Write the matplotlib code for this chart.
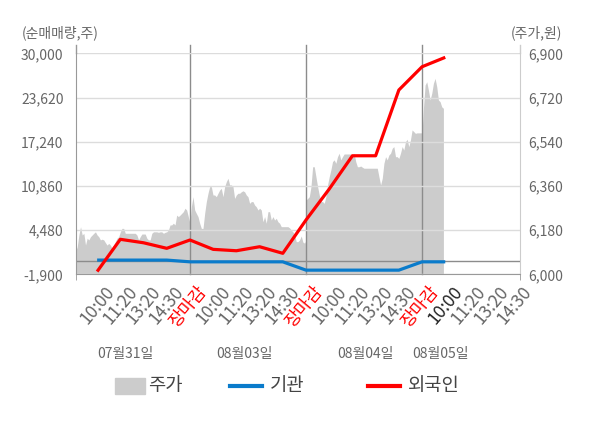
import matplotlib
matplotlib.use('Agg')
import matplotlib.pyplot as plt
import numpy as np
from matplotlib.patches import Rectangle
from matplotlib.lines import Line2D
import matplotlib.transforms as mtransforms

plt.rcParams['font.family'] = ['Noto Sans CJK KR', 'DejaVu Sans']

# ---------------- data ----------------
tick_labels = ['10:00', '11:20', '13:20', '14:30', '장마감',
               '10:00', '11:20', '13:20', '14:30', '장마감',
               '10:00', '11:20', '13:20', '14:30', '장마감',
               '10:00', '11:20', '13:20', '14:30']
date_labels = ['07월31일', '08월03일', '08월04일', '08월05일']
left_ticks = [-1900, 4480, 10860, 17240, 23620, 30000]
right_ticks = [6000, 6180, 6360, 6540, 6720, 6900]

slots = list(range(16))
foreign = [-1500, 3150, 2650, 1850, 3050, 1700, 1500, 2080, 1130,
           5940, 10410, 15210, 15210, 24700, 28060, 29420]
institution = [150, 150, 150, 150, -100, -100, -100, -100, -100,
               -1300, -1300, -1300, -1300, -1300, -100, -100]

price_day1 = [6092, 6092, 6112, 6160, 6194, 6160, 6167, 6119, 6147, 6140,
              6153, 6160, 6167, 6173, 6160, 6153, 6140, 6143, 6140, 6129,
              6119, 6126, 6119, 6106, 6119, 6133, 6147, 6153, 6173, 6187,
              6187, 6167, 6167, 6167, 6167, 6167, 6167, 6167, 6160, 6140,
              6153, 6164, 6164, 6164, 6147, 6140, 6140, 6167, 6173, 6173,
              6173, 6171, 6173, 6173, 6167, 6171, 6173, 6180, 6201, 6201,
              6208, 6201, 6241, 6235, 6241, 6248, 6255, 6269, 6262, 6235,
              6208]
price_day2 = [6275, 6316, 6262, 6248, 6235, 6208, 6187, 6187, 6248, 6296,
              6330, 6357, 6357, 6323, 6323, 6316, 6330, 6343, 6350, 6316,
              6357, 6377, 6391, 6364, 6364, 6357, 6309, 6323, 6330, 6330,
              6336, 6340, 6336, 6323, 6316, 6289, 6296, 6296, 6282, 6275,
              6262, 6269, 6262, 6214, 6235, 6208, 6255, 6255, 6221, 6235,
              6221, 6228, 6214, 6208, 6194, 6194, 6194, 6194, 6194, 6189,
              6180, 6173, 6160, 6133, 6133, 6140, 6156, 6131, 6127, 6140]
price_day3 = [6302, 6309, 6316, 6357, 6438, 6438, 6397, 6357, 6323, 6296,
              6296, 6289, 6316, 6364, 6397, 6425, 6459, 6466, 6452, 6479,
              6493, 6466, 6479, 6490, 6490, 6490, 6490, 6490, 6479, 6493,
              6459, 6438, 6438, 6441, 6436, 6432, 6432, 6432, 6432, 6432,
              6432, 6432, 6432, 6432, 6397, 6364, 6391, 6452, 6479, 6466,
              6486, 6493, 6513, 6520, 6479, 6479, 6472, 6493, 6520, 6506,
              6540, 6550, 6520, 6547, 6588, 6581, 6574, 6576, 6576, 6576,
              6576]
price_day4 = [6676, 6771, 6784, 6750, 6710, 6737, 6778, 6798, 6764, 6710,
              6703, 6682, 6676]
day_spans = [(-1.0, 4.0), (4.06, 9.01), (9.0, 14.0), (14.06, 14.92)]

# ---------------- figure ----------------
W, H = 600, 428
fig = plt.figure(figsize=(W / 100, H / 100), dpi=100)
L, R, T, B = 76, 520, 53.3, 274.3
ax = fig.add_axes([L / W, 1 - B / H, (R - L) / W, (B - T) / H])
ax2 = ax.twinx()
ax.set_zorder(ax2.get_zorder() + 1)
ax.patch.set_visible(False)
ax2.patch.set_facecolor('#f4f4f4')

XL, XR = -0.91, 18.22
ax.set_xlim(XL, XR)
ax.set_ylim(-1900, 30000)
ax2.set_ylim(6000, 6900)

# price area
px, pv = [], []
for vals, (a, b) in zip([price_day1, price_day2, price_day3, price_day4], day_spans):
    px.extend(np.linspace(a, b, len(vals)))
    pv.extend(vals)
ax2.fill_between(px, 6000, pv, color='#cccccc', lw=0)

# grid and reference lines
ax.set_yticks(left_ticks)
ax.set_yticklabels([f'{v:,}' for v in left_ticks])
ax2.set_yticks(right_ticks)
ax2.set_yticklabels([f'{v:,}' for v in right_ticks])
ax.grid(axis='y', color='#dcdcdc', lw=1)
ax.grid(axis='x', visible=False)
ax.axhline(0, color='#8c8c8c', lw=1, zorder=1.5)

blend = mtransforms.blended_transform_factory(ax.transData, ax.transAxes)
ext = 1 + 8.3 / (B - T)
for xv in [4, 9, 14]:
    ax.plot([xv, xv], [0, ext], color='#8c8c8c', lw=1, transform=blend,
            clip_on=False, zorder=1.5)
ax.plot([0, 0], [1, ext], color='#999999', lw=1, transform=ax.transAxes, clip_on=False)
ax.plot([1, 1], [1, ext], color='#cccccc', lw=1, transform=ax.transAxes, clip_on=False)

# series
ax.plot(slots, institution, color='#0a7bcb', lw=2.3, zorder=3, solid_capstyle='butt')
ax.plot(slots, foreign, color='#ff0000', lw=2.3, zorder=4, solid_capstyle='butt')

# spines
for s in ['top']:
    ax.spines[s].set_visible(False)
    ax2.spines[s].set_visible(False)
ax.spines['right'].set_visible(False)
ax2.spines['left'].set_visible(False)
ax2.spines['bottom'].set_visible(False)
ax.spines['left'].set_color('#999999')
ax.spines['bottom'].set_color('#999999')
ax2.spines['right'].set_color('#cccccc')

# ticks
ax.tick_params(axis='y', length=0, pad=9, labelsize=10, labelcolor='#666666')
ax2.tick_params(axis='y', length=0, pad=6, labelsize=10, labelcolor='#666666')
ax.set_xticks(range(len(tick_labels)))
ax.set_xticklabels(tick_labels, rotation=50, ha='right', va='top',
                   rotation_mode='anchor', fontsize=12.5, color='#666666')
ax.set_xticks([XL, 4, 9, 14, XR], minor=True)
ax.tick_params(axis='x', which='major', length=0, pad=6)
ax.tick_params(axis='x', which='minor', length=4, color='#999999')
shift = mtransforms.ScaledTranslation(7 / 100, 0, fig.dpi_scale_trans)
for i, lab in enumerate(ax.get_xticklabels()):
    lab.set_transform(lab.get_transform() + shift)
    if tick_labels[i] == '장마감':
        lab.set_color('#ff0000')
    elif i == 15:
        lab.set_color('#222222')

# date labels
date_pos = [1.2, 6.35, 11.55, 14.8]
dblend = mtransforms.blended_transform_factory(ax.transData, fig.transFigure)
for xp, t in zip(date_pos, date_labels):
    ax.text(xp, 1 - 354 / H, t, transform=dblend, ha='center', va='center',
            fontsize=10, color='#666666')

# axis titles
fig.text(22 / W, 1 - 33 / H, '(순매매량,주)', ha='left', va='center', fontsize=10, color='#666666')
fig.text(562 / W, 1 - 33 / H, '(주가,원)', ha='right', va='center', fontsize=10, color='#666666')

# legend
ly = 1 - 386 / H
fig.patches.append(Rectangle((115 / W, 1 - 394 / H), 30 / W, 16 / H,
                             transform=fig.transFigure, color='#cccccc'))
fig.lines.append(Line2D([230 / W, 262 / W], [ly, ly], transform=fig.transFigure,
                        color='#0a7bcb', lw=3))
fig.lines.append(Line2D([368 / W, 400 / W], [ly, ly], transform=fig.transFigure,
                        color='#ff0000', lw=3))
for xp, t in [(148, '주가'), (270, '기관'), (408, '외국인')]:
    fig.text(xp / W, ly, t, ha='left', va='center', fontsize=13.5, color='#444444')

fig.savefig('out.png', dpi=100)
